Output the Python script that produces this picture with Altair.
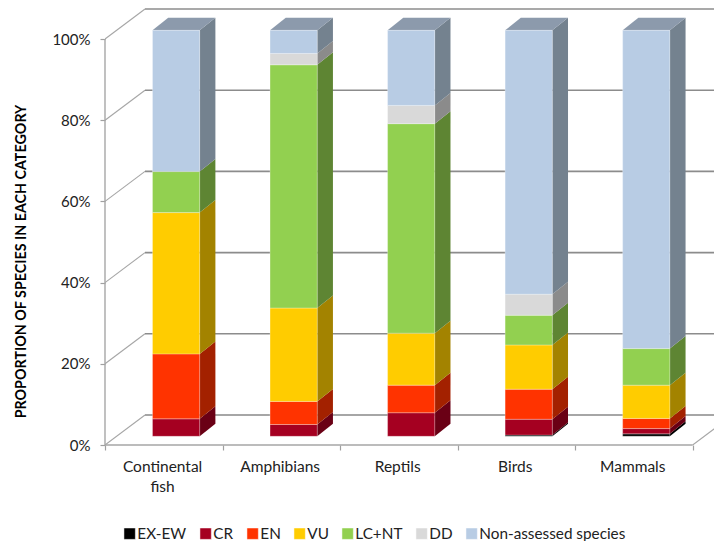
import altair as alt
import pandas as pd

categories = ["Continental\nfish", "Amphibians", "Reptils", "Birds", "Mammals"]
series = ["EX-EW", "CR", "EN", "VU", "LC+NT", "DD", "Non-assessed species"]
ex_ew = [0, 0, 0, 0.3, 0.6]
cr = [4.3, 2.9, 5.8, 3.9, 1.3]
en = [16.0, 5.7, 6.8, 7.4, 2.5]
vu = [34.8, 23.0, 12.8, 10.9, 8.2]
lc_nt = [10.1, 59.9, 51.6, 7.3, 9.0]
dd = [0, 2.8, 4.5, 5.2, 0]
non_assessed = [34.8, 5.7, 18.5, 65.0, 78.4]
ticks = [0, 20, 40, 60, 80, 100]

front_colors = ["#000000", "#a50021", "#ff3300", "#ffcc00", "#92d050", "#d9d9d9", "#b8cce4"]
side_colors = ["#000000", "#6a0015", "#a32100", "#a38300", "#5e8533", "#8b8b8b", "#74828f"]
top_color = "#8c9aac"

PX_X, PX_Y = 117.54, 4.06
PLOT_W, PLOT_H = 609, 437
XMAX = PLOT_W / PX_X
YMAX = PLOT_H / PX_Y
WALL_DX, WALL_DY = 40 / PX_X, 30 / PX_Y
BAR_OFF, BAR_W = 47.5 / PX_X, 47.2 / PX_X
BAR_DX, BAR_DY = 15.7 / PX_X, 12.5 / PX_Y
BASE = 8.7 / PX_Y

columns = [ex_ew, cr, en, vu, lc_nt, dd, non_assessed]
fronts, sides, tops = [], [], []
for i in range(len(categories)):
    x0 = i + BAR_OFF
    x1 = x0 + BAR_W
    cum = BASE
    for j, name in enumerate(series):
        v = columns[j][i]
        if v <= 0:
            continue
        lo, hi = cum, cum + v
        cum = hi
        fronts.append(dict(x=x0, x2=x1, y=lo, y2=hi, s=name))
        gid = f"{i}-{j}"
        sides.append(dict(x=x1, y=hi, y2=lo, g=gid, s=name))
        sides.append(dict(x=x1 + BAR_DX, y=hi + BAR_DY, y2=lo + BAR_DY, g=gid, s=name))
    for px, lo, hi in [(x0, cum, cum), (x0 + BAR_DX, cum, cum + BAR_DY),
                       (x1, cum, cum + BAR_DY), (x1 + BAR_DX, cum + BAR_DY, cum + BAR_DY)]:
        tops.append(dict(x=px, y=hi, y2=lo, g=str(i)))

df_f, df_s, df_t = pd.DataFrame(fronts), pd.DataFrame(sides), pd.DataFrame(tops)

diag = pd.DataFrame([dict(x=0, x2=WALL_DX, y=t, y2=t + WALL_DY) for t in ticks] +
                    [dict(x=5, x2=5 + WALL_DX, y=0, y2=WALL_DY)])
back = pd.DataFrame([dict(x=WALL_DX, x2=5 + WALL_DX, y=t + WALL_DY, y2=t + WALL_DY) for t in ticks if t > 0])
floor_back = pd.DataFrame([dict(x=WALL_DX, x2=5 + WALL_DX, y=WALL_DY, y2=WALL_DY)])
frame = pd.DataFrame([dict(x=0, x2=0, y=0, y2=100), dict(x=0, x2=5, y=0, y2=0)])
labels = pd.DataFrame(dict(x=[i + 0.49 for i in range(5)], y=[0] * 5, t=categories))

FONT = "Lato"
xs = alt.Scale(domain=[0, XMAX], nice=False, zero=False)
ys = alt.Scale(domain=[0, YMAX], nice=False, zero=False)

X = alt.X("x:Q", scale=xs, title=None, axis=alt.Axis(
    values=[0, 1, 2, 3, 4, 5], labels=False, domain=False, grid=False,
    tickColor="#a0a0a0", tickSize=5, tickWidth=1.2, title=None))
Y = alt.Y("y:Q", scale=ys, stack=None, title="PROPORTION OF SPECIES IN EACH CATEGORY", axis=alt.Axis(
    values=ticks, labelExpr="datum.value + '%'", domain=False, grid=False,
    tickColor="#a0a0a0", tickSize=5, tickWidth=1.2, labelFont=FONT, labelFontSize=15,
    labelColor="#222222", labelPadding=10,
    titleFont=FONT, titleFontSize=14.3, titleFontWeight="bold", titleColor="#000000",
    titleX=-84, titleY=253, titleAngle=270, titleAlign="center", titleBaseline="middle"))


def rules(df, color, width, clip=True):
    return alt.Chart(df).mark_rule(color=color, strokeWidth=width, clip=clip).encode(
        x=X, x2="x2:Q", y=Y, y2="y2:Q")


side_layers = [
    alt.Chart(df_s[df_s.s == name]).mark_area(color=side_colors[j]).encode(
        x=X, y=Y, y2="y2:Q", detail="g:N")
    for j, name in enumerate(series)
]
top_layer = alt.Chart(df_t).mark_area(color=top_color).encode(
    x=X, y=Y, y2="y2:Q", detail="g:N")
front_layer = alt.Chart(df_f).mark_rect(stroke="#ffffff", strokeOpacity=0.35, strokeWidth=0.8).encode(
    x=X, x2="x2:Q", y=Y, y2="y2:Q",
    color=alt.Color("s:N", scale=alt.Scale(domain=series, range=front_colors),
                    legend=alt.Legend(
                        title=None, orient="none", legendX=17, legendY=518,
                        direction="horizontal", columns=7, columnPadding=11,
                        symbolType="square", symbolSize=130, symbolStrokeWidth=0.5,
                        labelFont=FONT, labelFontSize=15.3, labelColor="#222222",
                        labelOffset=0, labelLimit=200)))
label_layer = alt.Chart(labels).mark_text(
    font=FONT, fontSize=15.5, color="#222222", lineBreak="\n", lineHeight=20,
    dy=22, baseline="middle", align="center").encode(x=X, y=Y, text="t:N")

chart = alt.layer(
    rules(diag, "#a6a6a6", 1.1),
    rules(back, "#8c8c8c", 1.6),
    rules(floor_back, "#a6a6a6", 2),
    rules(frame, "#a6a6a6", 1.4, False),
    *side_layers, top_layer, front_layer, label_layer,
).properties(
    width=PLOT_W, height=PLOT_H,
    padding={"left": 97, "top": 0, "right": 0, "bottom": 96},
    autosize=alt.AutoSizeParams(type="none", contains="content"),
).configure_view(stroke=None)

chart.save("out.html", embed_options={"renderer": "svg", "actions": False})
